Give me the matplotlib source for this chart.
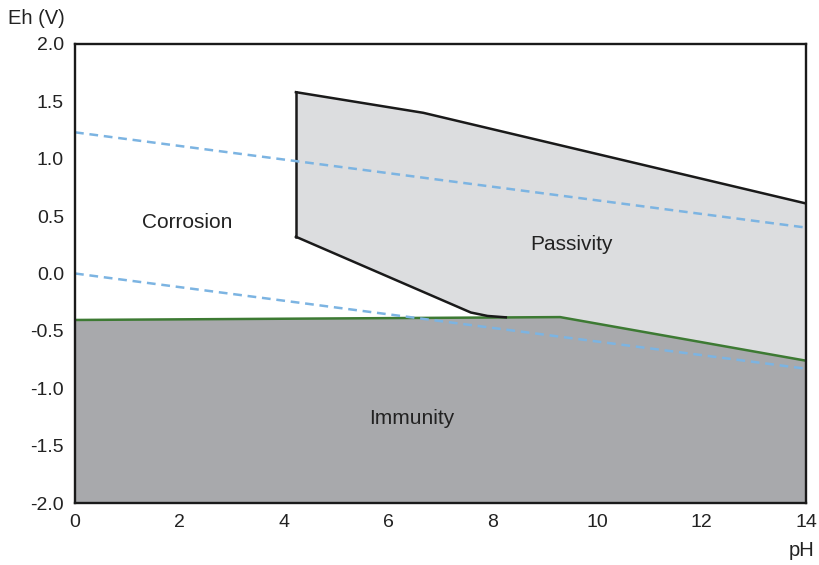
import matplotlib
matplotlib.use('Agg')
import matplotlib.pyplot as plt

# Pourbaix-type diagram: boundaries
top_ph = [4.23, 6.67, 14.0]
top_eh = [1.58, 1.40, 0.61]

low_ph = [4.23, 7.58, 7.9, 8.25]
low_eh = [0.32, -0.34, -0.37, -0.382]

imm_ph = [0.0, 9.29, 14.0]
imm_eh = [-0.405, -0.38, -0.76]

water_ph = [0.0, 14.0]
water_hi = [1.23, 0.40]
water_lo = [0.0, -0.83]

labels = ['Corrosion', 'Passivity', 'Immunity']
label_ph = [2.15, 9.5, 6.45]
label_eh = [0.44, 0.25, -1.26]

plt.rcParams['font.family'] = ['Liberation Sans', 'DejaVu Sans']

fig = plt.figure(figsize=(8.2, 5.65), dpi=100)
ax = fig.add_axes([0.0915, 0.1097, 0.8915, 0.8125])

# passivity region
pas_x = [low_ph[0]] + top_ph + [imm_ph[2], imm_ph[1]] + low_ph[::-1]
pas_y = [low_eh[0]] + top_eh + [imm_eh[2], imm_eh[1]] + low_eh[::-1]
ax.fill(pas_x, pas_y, color='#dcdddf', lw=0, zorder=1)

# immunity region
ax.fill_between(imm_ph, imm_eh, -2.0, color='#a8a9ac', lw=0, zorder=1)

ax.plot(imm_ph, imm_eh, color='#3d7a33', lw=1.8, zorder=3)
ax.plot(top_ph, top_eh, color='#1a1a1a', lw=1.8, zorder=3)
ax.plot(low_ph, low_eh, color='#1a1a1a', lw=1.8, zorder=3)
ax.plot([top_ph[0], low_ph[0]], [top_eh[0], low_eh[0]], color='#1a1a1a', lw=1.8, zorder=3)

ax.plot(water_ph, water_hi, color='#7cb4e2', lw=1.8, ls=(0, (3.5, 2.3)), zorder=4)
ax.plot(water_ph, water_lo, color='#7cb4e2', lw=1.8, ls=(0, (3.5, 2.3)), zorder=4)

for t, x, y in zip(labels, label_ph, label_eh):
    ax.text(x, y, t, fontsize=15, ha='center', va='center', color='#222222', zorder=5)

ax.set_xlim(0, 14)
ax.set_ylim(-2.0, 2.0)
ax.set_xticks(range(0, 15, 2))
ax.set_yticks([-2.0, -1.5, -1.0, -0.5, 0.0, 0.5, 1.0, 1.5, 2.0])
ax.set_yticklabels(['%.1f' % v for v in ax.get_yticks()])
ax.tick_params(length=0, labelsize=14, colors='#222222', pad=8)
for s in ax.spines.values():
    s.set_linewidth(1.7)
    s.set_color('#1a1a1a')
    s.set_zorder(6)

fig.text(0.01, 0.968, 'Eh (V)', fontsize=14.5, color='#222222', va='center')
fig.text(0.993, 0.025, 'pH', fontsize=14.5, color='#222222', va='center', ha='right')

fig.savefig('out.png', dpi=100)
